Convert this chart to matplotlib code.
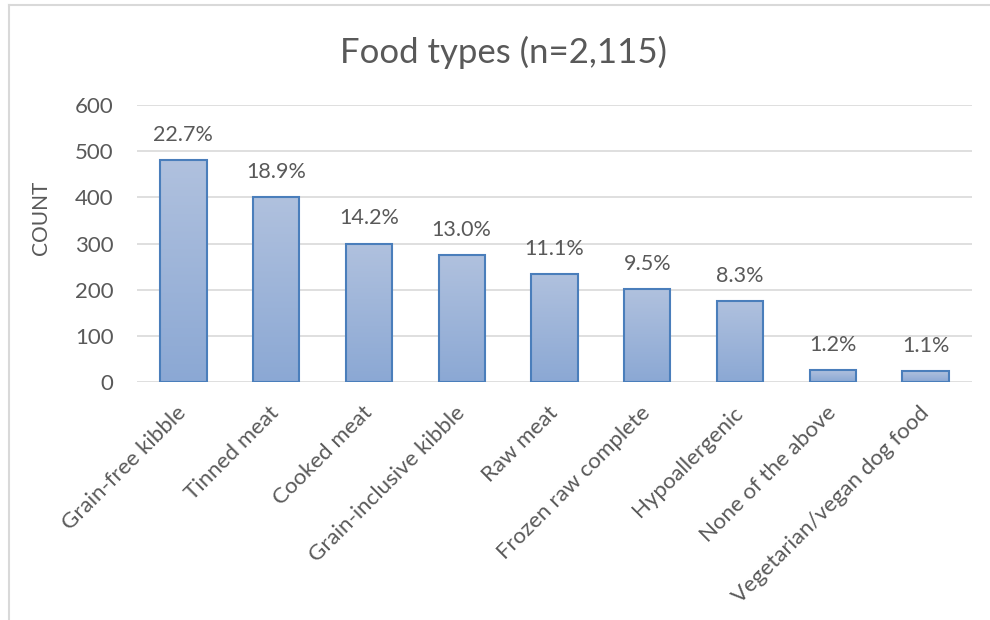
import numpy as np
import matplotlib
matplotlib.use("Agg")
import matplotlib.pyplot as plt
from matplotlib.colors import LinearSegmentedColormap
from matplotlib.lines import Line2D

plt.rcParams['font.family'] = ['Lato', 'DejaVu Sans']

categories = ["Grain-free kibble", "Tinned meat", "Cooked meat", "Grain-inclusive kibble",
              "Raw meat", "Frozen raw complete", "Hypoallergenic", "None of the above",
              "Vegetarian/vegan dog food"]
counts = [480, 400, 300, 275, 235, 201, 176, 25, 23]
pct_labels = ["22.7%", "18.9%", "14.2%", "13.0%", "11.1%", "9.5%", "8.3%", "1.2%", "1.1%"]

grey = "#595959"
W, H = 990, 620
fig = plt.figure(figsize=(W / 100, H / 100), dpi=100)
ax = fig.add_axes([137 / W, 1 - 382 / H, (972 - 137) / W, (382 - 105) / H])

x = np.arange(len(categories))
bars = ax.bar(x, counts, width=0.5, facecolor="none", edgecolor="#4a7ebb",
              linewidth=1.5, zorder=3)

# vertical gradient fill, clipped to each bar
cmap = LinearSegmentedColormap.from_list("g", ["#8ba8d4", "#b0c1de"])
grad = np.linspace(0, 1, 256).reshape(-1, 1)
for b in bars:
    x0, y0 = b.get_x(), b.get_y()
    im = ax.imshow(grad, cmap=cmap, origin="lower", aspect="auto", zorder=2,
                   extent=[x0, x0 + b.get_width(), y0, y0 + b.get_height()])
    im.set_clip_path(b)

for xi, c, lab in zip(x, counts, pct_labels):
    ax.annotate(lab, (xi, c), xytext=(0, 18), textcoords="offset points",
                ha="center", va="center", fontsize=15.5, color=grey)

ax.set_xlim(-0.5, len(categories) - 0.5)
ax.set_ylim(0, 600)
ax.set_yticks(range(0, 601, 100))
ax.set_xticks(x)
ax.set_xticklabels(categories, rotation=45, ha="right", va="center",
                   rotation_mode="anchor")
ax.tick_params(length=0, labelsize=16, labelcolor=grey)
ax.tick_params(axis="y", pad=17)
ax.tick_params(axis="x", pad=20)
ax.grid(axis="y", color="#d9d9d9", linewidth=1.2, zorder=0)
for s in ax.spines.values():
    s.set_visible(False)
ax.set_ylabel("COUNT", fontsize=15, color=grey)
ax.yaxis.set_label_coords(-0.103, 0.592)

fig.text(503 / W, 1 - 52 / H, "Food types (n=2,115)", ha="center", va="center",
         fontsize=25, color=grey)

# chart frame
fig.add_artist(Line2D([9 / W, 9 / W], [0, 1 - 5 / H], color="#d9d9d9", linewidth=1.5))
fig.add_artist(Line2D([9 / W, 1], [1 - 5 / H, 1 - 5 / H], color="#d9d9d9", linewidth=1.5))

fig.savefig("out.png", dpi=100)
